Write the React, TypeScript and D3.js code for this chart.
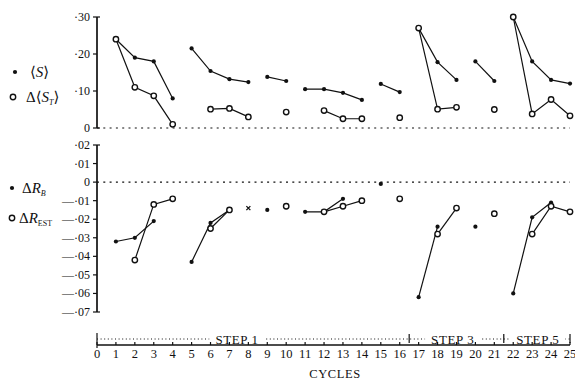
import * as d3 from 'd3';

// cycle number for each point, and the run of points it is joined to
const sCycles = [1, 2, 3, 4, 5, 6, 7, 8, 9, 10, 11, 12, 13, 14, 15, 16, 17, 18, 19, 20, 21, 22, 23, 24, 25];
const sValues = [0.24, 0.19, 0.18, 0.08, 0.215, 0.154, 0.132, 0.124, 0.138, 0.127, 0.105, 0.105, 0.095, 0.076, 0.119, 0.097, 0.27, 0.178, 0.13, 0.18, 0.127, 0.3, 0.18, 0.13, 0.12];
const sGroups = [1, 1, 1, 1, 2, 2, 2, 2, 3, 3, 4, 4, 4, 4, 5, 5, 6, 6, 6, 7, 7, 8, 8, 8, 8];

const stCycles = [1, 2, 3, 4, 6, 7, 8, 10, 12, 13, 14, 16, 17, 18, 19, 21, 22, 23, 24, 25];
const stValues = [0.24, 0.11, 0.087, 0.01, 0.051, 0.053, 0.03, 0.043, 0.047, 0.025, 0.025, 0.028, 0.27, 0.051, 0.056, 0.05, 0.3, 0.038, 0.077, 0.033];
const stGroups = [1, 1, 1, 1, 2, 2, 2, 3, 4, 4, 4, 5, 6, 6, 6, 7, 8, 8, 8, 8];

const rbCycles = [1, 2, 3, 5, 6, 7, 9, 11, 12, 13, 15, 17, 18, 20, 22, 23, 24];
const rbValues = [-0.032, -0.03, -0.021, -0.043, -0.022, -0.015, -0.015, -0.016, -0.016, -0.009, -0.001, -0.062, -0.024, -0.024, -0.06, -0.019, -0.011];
const rbGroups = [1, 1, 1, 2, 2, 2, 3, 4, 4, 4, 5, 6, 6, 7, 8, 8, 8];

const restCycles = [2, 3, 4, 6, 7, 10, 12, 13, 14, 16, 18, 19, 21, 23, 24, 25];
const restValues = [-0.042, -0.012, -0.009, -0.025, -0.015, -0.013, -0.016, -0.013, -0.01, -0.009, -0.028, -0.014, -0.017, -0.028, -0.013, -0.016];
const restGroups = [1, 1, 1, 2, 2, 3, 4, 4, 4, 5, 6, 6, 7, 8, 8, 8];

// the lone cross at cycle 8
const crossCycles = [8];
const crossValues = [-0.014];

const topTicks = [0, 0.1, 0.2, 0.3];
const topTickLabels = ['0', '·10', '·20', '·30'];
const botTicks = [0.02, 0.01, 0, -0.01, -0.02, -0.03, -0.04, -0.05, -0.06, -0.07];
const botTickLabels = ['·02', '·01', '0', '—·01', '—·02', '—·03', '—·04', '—·05', '—·06', '—·07'];
const xTicks = d3.range(0, 26);

const stepBounds = [0, 16.5, 21.5, 25];
const stepLabels = ['STEP 1', 'STEP 3', 'STEP 5'];
const stepLabelAt = [7.4, 18.8, 23.3];

const W = 575;
const H = 382;
const font = 'Liberation Serif, DejaVu Serif, serif';
const ink = '#111';

function pointsOf(cycles: number[], values: number[], groups?: number[]) {
  return cycles.map((c, i) => ({ c, v: values[i], g: groups ? groups[i] : i }));
}

export default function App() {
  const x = d3.scaleLinear().domain([0, 25]).range([97, 570]);
  const yTop = d3.scaleLinear().domain([0, 0.3]).range([128, 17]);
  const yBot = d3.scaleLinear().domain([-0.07, 0.02]).range([312, 145]);

  const axisY = 345;
  const stepY = 339;

  const series = (
    pts: { c: number; v: number; g: number }[],
    y: d3.ScaleLinear<number, number>,
    open: boolean,
    key: string,
  ) => {
    const line = d3
      .line<{ c: number; v: number }>()
      .x((d) => x(d.c))
      .y((d) => y(d.v));
    const grouped = d3.groups(pts, (d) => d.g);
    return (
      <g key={key}>
        {grouped
          .filter(([, g]) => g.length > 1)
          .map(([id, g]) => (
            <path key={id} d={line(g) ?? ''} fill="none" stroke={ink} strokeWidth={1.2} />
          ))}
        {pts.map((d, i) =>
          open ? (
            <circle key={i} cx={x(d.c)} cy={y(d.v)} r={2.7} fill="#fff" stroke={ink} strokeWidth={1.4} />
          ) : (
            <circle key={i} cx={x(d.c)} cy={y(d.v)} r={2.1} fill={ink} />
          ),
        )}
      </g>
    );
  };

  const yAxis = (
    y: d3.ScaleLinear<number, number>,
    ticks: number[],
    labels: string[],
    key: string,
  ) => {
    const [lo, hi] = y.domain();
    return (
      <g key={key}>
        <line x1={x(0)} x2={x(0)} y1={y(hi)} y2={y(lo)} stroke={ink} strokeWidth={1.7} />
        {ticks.map((t, i) => (
          <g key={i}>
            <line x1={x(0) - 4} x2={x(0) + (t === hi || t === lo ? 3 : 0)} y1={y(t)} y2={y(t)} stroke={ink} strokeWidth={1.2} />
            <text x={x(0) - 7} y={y(t) + 4} textAnchor="end" fontSize={12} fontFamily={font} fill={ink}>
              {labels[i]}
            </text>
          </g>
        ))}
      </g>
    );
  };

  return (
    <svg width={W} height={H} style={{ position: 'absolute', left: 0, top: 0, background: '#fff' }}>
      <rect width={W} height={H} fill="#fff" />

      {/* zero lines */}
      <line x1={x(0)} x2={x(25)} y1={yTop(0)} y2={yTop(0)} stroke={ink} strokeWidth={1.2} strokeDasharray="2 4.3" />
      <line x1={x(0)} x2={x(25)} y1={yBot(0)} y2={yBot(0)} stroke={ink} strokeWidth={1.2} strokeDasharray="2 4.3" />

      {yAxis(yTop, topTicks, topTickLabels, 'yt')}
      {yAxis(yBot, botTicks, botTickLabels, 'yb')}

      {series(pointsOf(sCycles, sValues, sGroups), yTop, false, 's')}
      {series(pointsOf(stCycles, stValues, stGroups), yTop, true, 'st')}
      {series(pointsOf(rbCycles, rbValues, rbGroups), yBot, false, 'rb')}
      {series(pointsOf(restCycles, restValues, restGroups), yBot, true, 'rest')}
      {crossCycles.map((c, i) => {
        const cx = x(c);
        const cy = yBot(crossValues[i]);
        return (
          <path key={i} d={`M${cx - 2},${cy - 2}L${cx + 2},${cy + 2}M${cx + 2},${cy - 2}L${cx - 2},${cy + 2}`} stroke={ink} strokeWidth={1.3} />
        );
      })}

      {/* legends */}
      <g fontFamily={font} fill={ink} fontSize={15}>
        <circle cx={15} cy={72} r={2.1} fill={ink} />
        <text x={30} y={77}>⟨<tspan fontStyle="italic">S</tspan>⟩</text>
        <circle cx={13} cy={97} r={2.7} fill="#fff" stroke={ink} strokeWidth={1.4} />
        <text x={26} y={102}>
          Δ⟨<tspan fontStyle="italic">S</tspan>
          <tspan fontSize={8} fontStyle="italic" dy={3}>T</tspan>
          <tspan dy={-3}>⟩</tspan>
        </text>
        <circle cx={12} cy={188} r={2.1} fill={ink} />
        <text x={22} y={193}>
          Δ<tspan fontStyle="italic">R</tspan>
          <tspan fontSize={8} fontStyle="italic" dy={3}>B</tspan>
        </text>
        <circle cx={12} cy={218} r={2.7} fill="#fff" stroke={ink} strokeWidth={1.4} />
        <text x={19} y={223}>
          Δ<tspan fontStyle="italic">R</tspan>
          <tspan fontSize={8} dy={3}>EST</tspan>
        </text>
      </g>

      {/* step bar */}
      <line x1={x(0)} x2={x(25)} y1={stepY} y2={stepY} stroke={ink} strokeWidth={1} strokeDasharray="1 2.6" />
      {stepLabels.map((s, i) => (
        <g key={s}>
          <rect x={x(stepLabelAt[i]) - s.length * 4.6} y={stepY - 6} width={s.length * 9.2} height={12} fill="#fff" />
          <text x={x(stepLabelAt[i])} y={stepY + 4.5} textAnchor="middle" fontSize={13} fontFamily={font} fill={ink} letterSpacing={0.6}>
            {s}
          </text>
        </g>
      ))}
      {stepBounds.map((b, i) => (
        <line key={i} x1={x(b)} x2={x(b)} y1={i === 0 ? 333 : stepY - 5} y2={i === 0 ? axisY + 3 : stepY + 4} stroke={ink} strokeWidth={1.2} />
      ))}

      {/* x axis */}
      <line x1={x(0)} x2={x(25)} y1={axisY} y2={axisY} stroke={ink} strokeWidth={1.7} />
      {xTicks.map((t) => (
        <g key={t}>
          <line x1={x(t)} x2={x(t)} y1={axisY - 3} y2={axisY} stroke={ink} strokeWidth={1.2} />
          <text x={x(t)} y={axisY + 13} textAnchor="middle" fontSize={12.5} fontFamily={font} fill={ink}>
            {t}
          </text>
        </g>
      ))}
      <text x={335} y={378} textAnchor="middle" fontSize={12.5} fontFamily={font} fill={ink} letterSpacing={0.6}>
        CYCLES
      </text>
    </svg>
  );
}
